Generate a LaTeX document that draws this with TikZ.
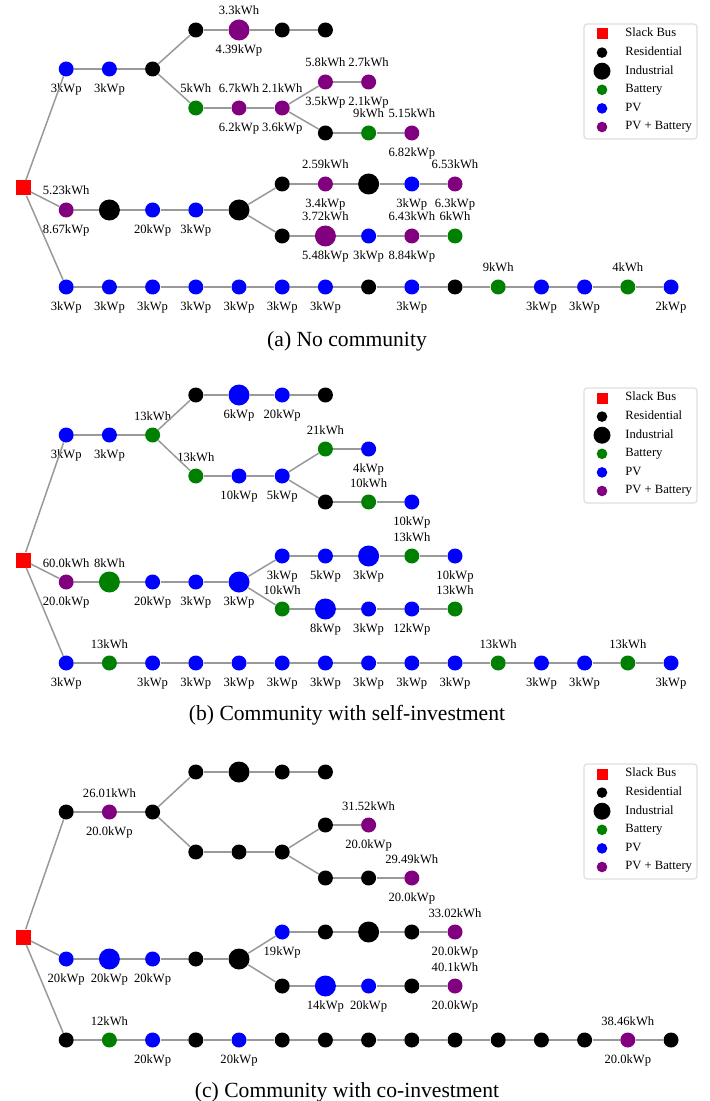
\documentclass[tikz,border=0pt]{standalone}
\usepackage{fontspec}
\setmainfont{Liberation Serif}
\usepackage{tikz}
\usetikzlibrary{positioning}
\definecolor{batgreen}{RGB}{0,128,0}
\definecolor{pvpurple}{RGB}{128,0,128}

\begin{document}
\begin{tikzpicture}[x=0.5pt, y=-0.5pt,
	bus/.style={circle, inner sep=0pt, minimum size=7.5pt},
	big/.style={circle, inner sep=0pt, minimum size=10.5pt},
	res/.style={bus, fill=black},
	ind/.style={big, fill=black},
	bat/.style={bus, fill=batgreen},
	bigbat/.style={big, fill=batgreen},
	pv/.style={bus, fill=blue},
	bigpv/.style={big, fill=blue},
	pvbat/.style={bus, fill=pvpurple},
	bigpvbat/.style={big, fill=pvpurple},
	slack/.style={rectangle, inner sep=0pt, minimum size=7.5pt, fill=red},
	legslack/.style={rectangle, inner sep=0pt, minimum size=5.5pt, fill=red},
	legres/.style={circle, inner sep=0pt, minimum size=5.3pt, fill=black},
	legind/.style={circle, inner sep=0pt, minimum size=8.5pt, fill=black},
	legbat/.style={circle, inner sep=0pt, minimum size=5.3pt, fill=batgreen},
	legpv/.style={circle, inner sep=0pt, minimum size=5.3pt, fill=blue},
	legpvbat/.style={circle, inner sep=0pt, minimum size=5.3pt, fill=pvpurple},
	link/.style={draw=gray!80, line width=0.75pt},
	lbl/.style={inner sep=0pt, font=\fontsize{6.3}{7}\selectfont, text height=4.3pt, text depth=1.4pt},
	subcap/.style={inner sep=0pt, font=\fontsize{10.8}{13}\selectfont, anchor=base},
	legbox/.style={draw=gray!25, fill=white, rounded corners=1.5pt, line width=0.6pt}]
	\useasboundingbox (0,0) rectangle (709,1101);

	% (a) no community
	\node[slack] (a-0-0) at (23,188) {};
	\foreach \c/\s in {4/res,5/bigpvbat,6/res,7/res} \node[\s] (a-1-\c) at (23+43.2*\c,30) {};
	\foreach \c/\s in {1/pv,2/pv,3/res} \node[\s] (a-2-\c) at (23+43.2*\c,69) {};
	\foreach \c/\s in {7/pvbat,8/pvbat} \node[\s] (a-3-\c) at (23+43.2*\c,82) {};
	\foreach \c/\s in {4/bat,5/pvbat,6/pvbat} \node[\s] (a-4-\c) at (23+43.2*\c,108) {};
	\foreach \c/\s in {7/res,8/bat,9/pvbat} \node[\s] (a-5-\c) at (23+43.2*\c,133) {};
	\foreach \c/\s in {6/res,7/pvbat,8/ind,9/pv,10/pvbat} \node[\s] (a-6-\c) at (23+43.2*\c,184) {};
	\foreach \c/\s in {1/pvbat,2/ind,3/pv,4/pv,5/ind} \node[\s] (a-7-\c) at (23+43.2*\c,210) {};
	\foreach \c/\s in {6/res,7/bigpvbat,8/pv,9/pvbat,10/bat} \node[\s] (a-8-\c) at (23+43.2*\c,236) {};
	\foreach \c/\s in {1/pv,2/pv,3/pv,4/pv,5/pv,6/pv,7/pv,8/res,9/pv,10/res,11/bat,12/pv,13/pv,14/bat,15/pv}
		\node[\s] (a-9-\c) at (23+43.2*\c,287) {};

	\foreach \n/\t in {a-1-5/3.3kWh, a-4-4/5kWh, a-4-5/6.7kWh, a-4-6/2.1kWh, a-3-7/5.8kWh, a-3-8/2.7kWh,
		a-5-8/9kWh, a-5-9/5.15kWh, a-7-1/5.23kWh, a-6-7/2.59kWh, a-6-10/6.53kWh, a-8-7/3.72kWh,
		a-8-9/6.43kWh, a-8-10/6kWh, a-9-11/9kWh, a-9-14/4kWh}
		\node[lbl, above=5.9pt of \n.center] (\n-e) {\t};
	\foreach \n/\t in {a-1-5/4.39kWp, a-2-1/3kWp, a-2-2/3kWp, a-4-5/6.2kWp, a-4-6/3.6kWp, a-3-7/3.5kWp,
		a-3-8/2.1kWp, a-5-9/6.82kWp, a-7-1/8.67kWp, a-7-3/20kWp, a-7-4/3kWp, a-6-7/3.4kWp, a-6-9/3kWp,
		a-6-10/6.3kWp, a-8-7/5.48kWp, a-8-8/3kWp, a-8-9/8.84kWp, a-9-15/2kWp}
		\node[lbl, below=7.3pt of \n.center] (\n-p) {\t};
	\foreach \c in {1,2,3,4,5,6,7,9,12,13}
		\node[lbl, below=7.3pt of a-9-\c.center] (a-9-\c-p) {3kWp};

	% (b) community with self-investment
	\node[slack] (b-0-0) at (23,560) {};
	\foreach \c/\s in {4/res,5/bigpv,6/pv,7/res} \node[\s] (b-1-\c) at (23+43.2*\c,395) {};
	\foreach \c/\s in {1/pv,2/pv,3/bat} \node[\s] (b-2-\c) at (23+43.2*\c,435) {};
	\foreach \c/\s in {7/bat,8/pv} \node[\s] (b-3-\c) at (23+43.2*\c,449) {};
	\foreach \c/\s in {4/bat,5/pv,6/pv} \node[\s] (b-4-\c) at (23+43.2*\c,476) {};
	\foreach \c/\s in {7/res,8/bat,9/pv} \node[\s] (b-5-\c) at (23+43.2*\c,502) {};
	\foreach \c/\s in {6/pv,7/pv,8/bigpv,9/bat,10/pv} \node[\s] (b-6-\c) at (23+43.2*\c,556) {};
	\foreach \c/\s in {1/pvbat,2/bigbat,3/pv,4/pv,5/bigpv} \node[\s] (b-7-\c) at (23+43.2*\c,582) {};
	\foreach \c/\s in {6/bat,7/bigpv,8/pv,9/pv,10/bat} \node[\s] (b-8-\c) at (23+43.2*\c,609) {};
	\foreach \c/\s in {1/pv,2/bat,3/pv,4/pv,5/pv,6/pv,7/pv,8/pv,9/pv,10/pv,11/bat,12/pv,13/pv,14/bat,15/pv}
		\node[\s] (b-9-\c) at (23+43.2*\c,663) {};

	\foreach \n/\t in {b-2-3/13kWh, b-4-4/13kWh, b-3-7/21kWh, b-5-8/10kWh, b-7-1/60.0kWh, b-7-2/8kWh,
		b-6-9/13kWh, b-8-6/10kWh, b-8-10/13kWh, b-9-2/13kWh, b-9-11/13kWh, b-9-14/13kWh}
		\node[lbl, above=5.9pt of \n.center] (\n-e) {\t};
	\foreach \n/\t in {b-1-5/6kWp, b-1-6/20kWp, b-2-1/3kWp, b-2-2/3kWp, b-4-5/10kWp, b-4-6/5kWp, b-3-8/4kWp,
		b-5-9/10kWp, b-7-1/20.0kWp, b-7-3/20kWp, b-7-4/3kWp, b-7-5/3kWp, b-6-6/3kWp, b-6-7/5kWp,
		b-6-8/3kWp, b-6-10/10kWp, b-8-7/8kWp, b-8-8/3kWp, b-8-9/12kWp}
		\node[lbl, below=7.3pt of \n.center] (\n-p) {\t};
	\foreach \c in {1,3,4,5,6,7,8,9,10,12,13,15}
		\node[lbl, below=7.3pt of b-9-\c.center] (b-9-\c-p) {3kWp};

	% (c) community with co-investment
	\node[slack] (c-0-0) at (23,937) {};
	\foreach \c/\s in {4/res,5/ind,6/res,7/res} \node[\s] (c-1-\c) at (23+43.2*\c,772) {};
	\foreach \c/\s in {1/res,2/pvbat,3/res} \node[\s] (c-2-\c) at (23+43.2*\c,812) {};
	\foreach \c/\s in {7/res,8/pvbat} \node[\s] (c-3-\c) at (23+43.2*\c,825) {};
	\foreach \c/\s in {4/res,5/res,6/res} \node[\s] (c-4-\c) at (23+43.2*\c,852) {};
	\foreach \c/\s in {7/res,8/res,9/pvbat} \node[\s] (c-5-\c) at (23+43.2*\c,878) {};
	\foreach \c/\s in {6/pv,7/res,8/ind,9/res,10/pvbat} \node[\s] (c-6-\c) at (23+43.2*\c,932) {};
	\foreach \c/\s in {1/pv,2/bigpv,3/pv,4/res,5/ind} \node[\s] (c-7-\c) at (23+43.2*\c,959) {};
	\foreach \c/\s in {6/res,7/bigpv,8/pv,9/res,10/pvbat} \node[\s] (c-8-\c) at (23+43.2*\c,986) {};
	\foreach \c/\s in {1/res,2/bat,3/pv,4/res,5/pv,6/res,7/res,8/res,9/res,10/res,11/res,12/res,13/res,14/pvbat,15/res}
		\node[\s] (c-9-\c) at (23+43.2*\c,1040) {};

	\foreach \n/\t in {c-2-2/26.01kWh, c-3-8/31.52kWh, c-5-9/29.49kWh, c-6-10/33.02kWh, c-8-10/40.1kWh,
		c-9-2/12kWh, c-9-14/38.46kWh}
		\node[lbl, above=5.9pt of \n.center] (\n-e) {\t};
	\foreach \n/\t in {c-2-2/20.0kWp, c-3-8/20.0kWp, c-5-9/20.0kWp, c-6-6/19kWp, c-6-10/20.0kWp, c-7-1/20kWp,
		c-7-2/20kWp, c-7-3/20kWp, c-8-7/14kWp, c-8-8/20kWp, c-8-10/20.0kWp, c-9-3/20kWp, c-9-5/20kWp,
		c-9-14/20.0kWp}
		\node[lbl, below=7.3pt of \n.center] (\n-p) {\t};

	% lines, same feeder layout in all three
	\foreach \p in {a,b,c} {
		\foreach \u/\v in {0-0/2-1, 0-0/7-1, 0-0/9-1, 2-3/1-4, 2-3/4-4, 4-6/3-7, 4-6/5-7, 7-5/6-6, 7-5/8-6}
			\draw[link] (\p-\u) -- (\p-\v);
		\foreach \u/\v in {1-4/1-5, 1-5/1-6, 1-6/1-7, 2-1/2-2, 2-2/2-3, 3-7/3-8, 4-4/4-5, 4-5/4-6,
			5-7/5-8, 5-8/5-9, 6-6/6-7, 6-7/6-8, 6-8/6-9, 6-9/6-10, 7-1/7-2, 7-2/7-3, 7-3/7-4, 7-4/7-5,
			8-6/8-7, 8-7/8-8, 8-8/8-9, 8-9/8-10}
			\draw[link] (\p-\u) -- (\p-\v);
		\foreach \c in {1,...,14} {
			\pgfmathtruncatemacro{\nxt}{\c+1}
			\draw[link] (\p-9-\c) -- (\p-9-\nxt);
		}
	}

	% legends
	\foreach \p/\y in {a/24, b/388, c/764} {
		\draw[legbox] (584,\y) rectangle (697,\y+115);
		\foreach \s/\t [count=\i from 0] in {legslack/Slack Bus, legres/Residential, legind/Industrial,
			legbat/Battery, legpv/PV, legpvbat/PV + Battery} {
			\node[\s] (\p-key-\i) at (602,\y+10+18.6*\i) {};
			\node[lbl, anchor=west] (\p-txt-\i) at (625,\y+10+18.6*\i) {\t};
		}
	}

	\node[subcap] (cap-a) at (347,346) {(a) No community};
	\node[subcap] (cap-b) at (347,720) {(b) Community with self-investment};
	\node[subcap] (cap-c) at (347,1097) {(c) Community with co-investment};
\end{tikzpicture}
\end{document}
